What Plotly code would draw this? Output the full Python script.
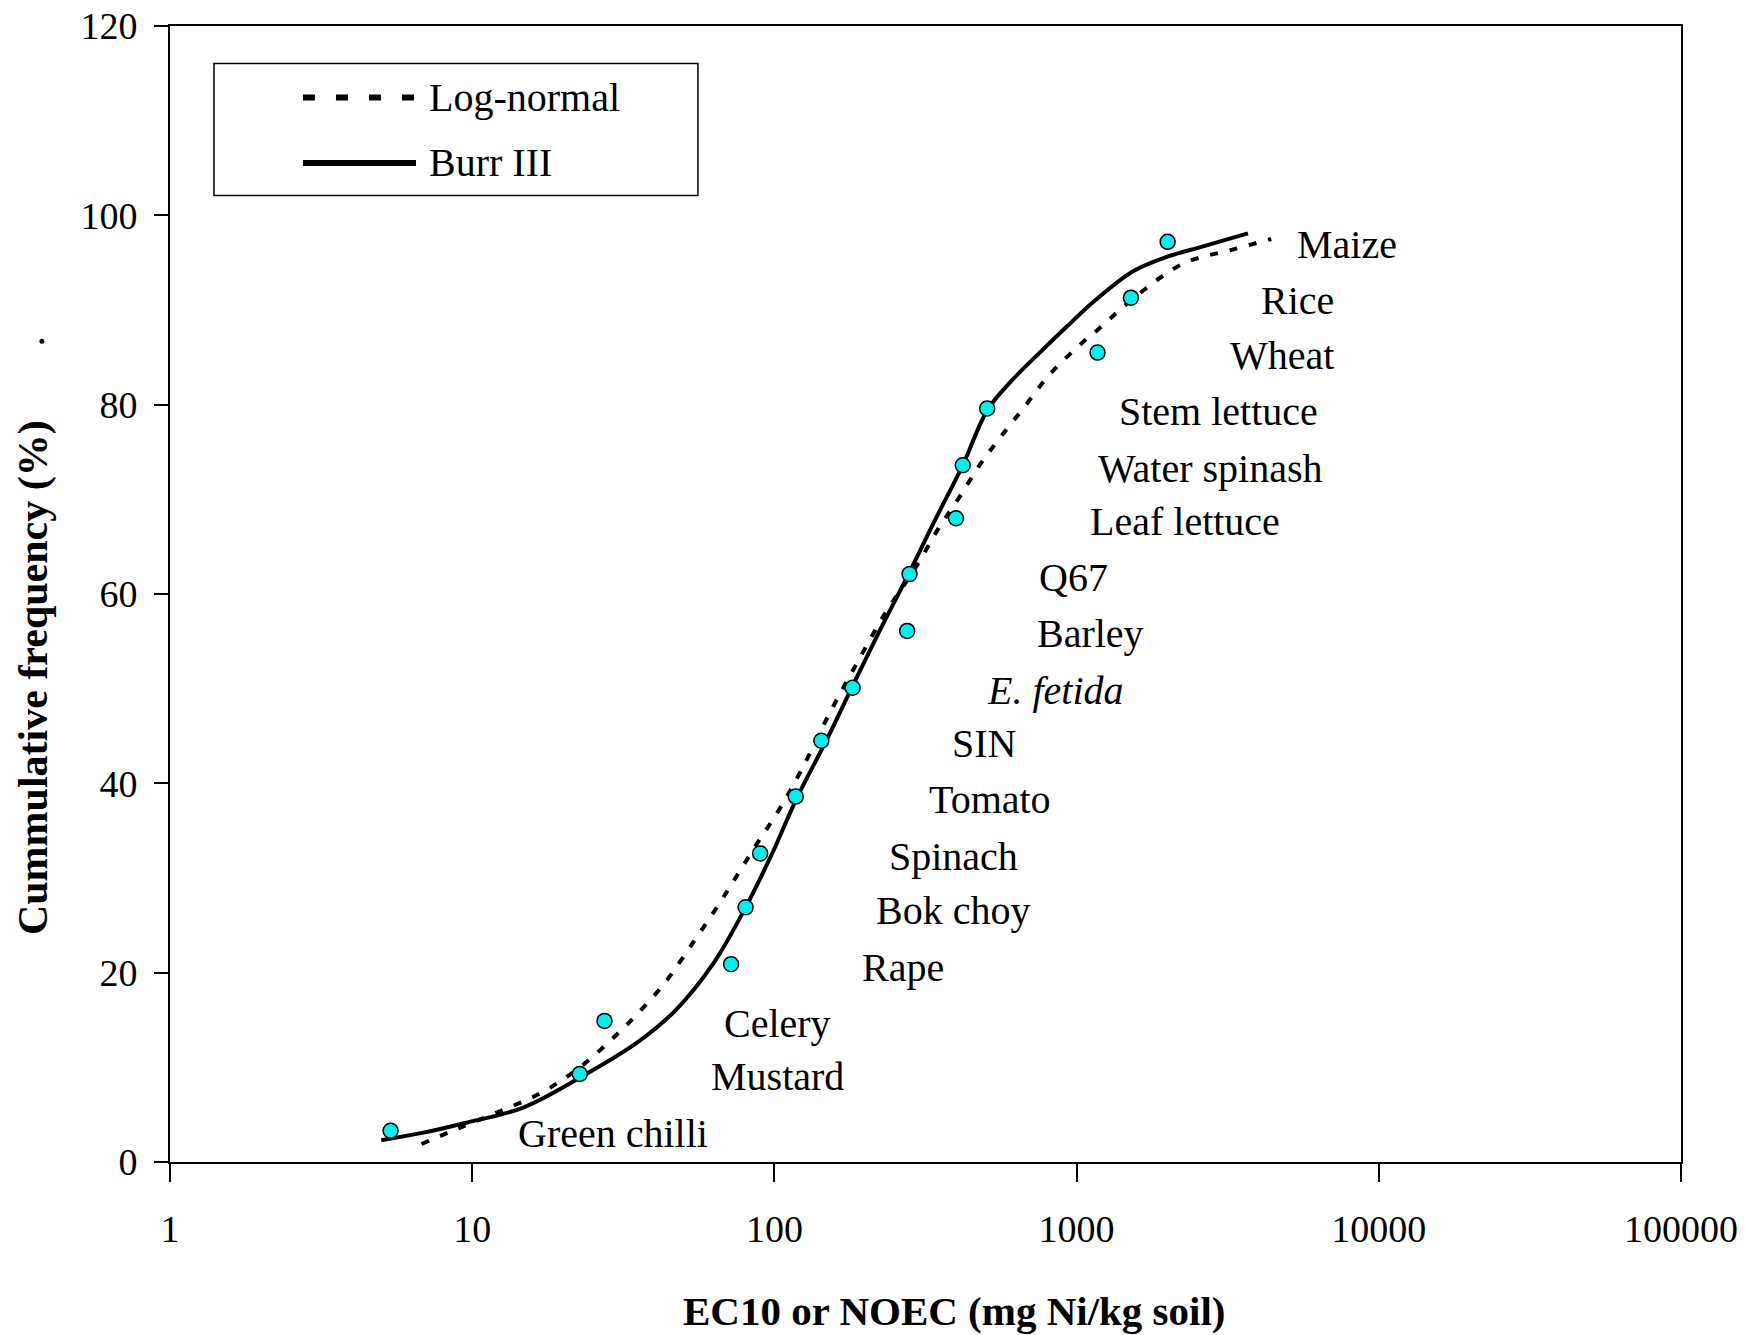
import plotly.graph_objects as go

# ---------------- data ----------------
species = ["Green chilli", "Mustard", "Celery", "Rape", "Bok choy", "Spinach", "Tomato",
           "SIN", "<i>E. fetida</i>", "Barley", "Q67", "Leaf lettuce", "Water spinash",
           "Stem lettuce", "Wheat", "Rice", "Maize"]
toxicity = [5.37, 22.7, 27.4, 71.9, 80.3, 89.7, 117.7, 143, 181.5, 275, 280, 399, 420,
            506, 1173, 1513, 2001]
cum_freq = [3.3, 9.3, 14.9, 20.9, 26.9, 32.6, 38.6, 44.5, 50.1, 56.1, 62.1, 68.0, 73.6,
            79.6, 85.5, 91.3, 97.2]

burr_x = [5.0, 6.9, 9.4, 14.6, 22.7, 35.1, 47, 62.9, 80.3, 99, 117.7, 150, 181.5, 222,
          280, 340, 420, 506, 600, 761, 925, 1150, 1538, 1985, 2605, 3690]
burr_y = [2.3, 3.1, 4.1, 5.7, 8.9, 12.6, 16.0, 21.0, 26.9, 32.8, 38.2, 44.8, 50.3, 56.0,
          62.3, 67.8, 73.6, 79.4, 82.3, 85.6, 88.2, 91.0, 94.1, 95.6, 96.7, 98.1]

lognorm_x = [6.8, 8.9, 12.0, 16.9, 22.7, 28.6, 34.6, 43.1, 54.4, 64.8, 75, 87.5, 103.6,
             122.8, 151.7, 187.6, 231.9, 280, 304, 348.7, 407, 482, 561, 673, 815, 1000,
             1193, 1538, 2254, 3303, 4406]
lognorm_y = [1.9, 3.5, 5.2, 7.3, 10.0, 12.8, 15.4, 18.8, 23.4, 27.0, 30.2, 33.6, 37.2,
             41.4, 47.3, 52.7, 57.9, 61.8, 63.6, 66.9, 70.1, 73.8, 76.6, 79.8, 83.2, 86.0,
             88.1, 91.2, 94.9, 96.4, 97.5]

x_tickvals = [1, 10, 100, 1000, 10000, 100000]
x_ticktext = ["1", "10", "100", "1000", "10000", "100000"]
y_tickvals = [0, 20, 40, 60, 80, 100, 120]

# ---------------- layout helpers (label placement, log10 of centre) ----------------
label_logx = [1.4665, 2.0118, 2.0118, 2.4263, 2.5921, 2.5939, 2.7119, 2.6934, 2.9292,
              3.0472, 2.9882, 3.3585, 3.4433, 3.4709, 3.6791, 3.7307, 3.8946]

FONT = "Liberation Serif, Times New Roman, serif"

fig = go.Figure()
fig.add_trace(go.Scatter(x=lognorm_x, y=lognorm_y, mode="lines", name="Log-normal",
                         line=dict(color="black", width=4, dash="8px,12px", shape="spline",
                                   smoothing=1.0)))
fig.add_trace(go.Scatter(x=burr_x, y=burr_y, mode="lines", name="Burr III",
                         line=dict(color="black", width=4, shape="spline", smoothing=1.0)))
fig.add_trace(go.Scatter(x=toxicity, y=cum_freq, mode="markers", name="Species",
                         marker=dict(size=15, color="#00F0F0",
                                     line=dict(color="black", width=1.5))))

annotations = []
for name, lx, yv in zip(species, label_logx, cum_freq):
    annotations.append(dict(x=lx, y=yv, xref="x", yref="y", text=name, showarrow=False,
                            xanchor="center", yanchor="middle", yshift=-3,
                            font=dict(family=FONT, size=40, color="black")))

# axis titles
annotations.append(dict(x=0.5195, y=-0.131, xref="paper", yref="paper",
                        text="<b>EC10 or NOEC (mg Ni/kg soil)</b>", showarrow=False,
                        xanchor="center", yanchor="middle",
                        font=dict(family=FONT, size=41, color="black")))
annotations.append(dict(x=-0.0907, y=0.4268, xref="paper", yref="paper",
                        text="<b>Cummulative frequency (%)</b>", showarrow=False,
                        textangle=-90, xanchor="center", yanchor="middle",
                        font=dict(family=FONT, size=42, color="black")))
# manual legend text
annotations.append(dict(x=0.1698, y=0.9371, xref="paper", yref="paper", text="Log-normal",
                        showarrow=False, xanchor="left", yanchor="middle",
                        font=dict(family=FONT, size=40, color="black")))
annotations.append(dict(x=0.1698, y=0.8795, xref="paper", yref="paper", text="Burr III",
                        showarrow=False, xanchor="left", yanchor="middle",
                        font=dict(family=FONT, size=40, color="black")))

shapes = [
    dict(type="rect", xref="paper", yref="paper", x0=0.0291, x1=0.3494, y0=0.8509, y1=0.967,
         line=dict(color="black", width=1.5), fillcolor="white", layer="below"),
    dict(type="line", xref="paper", yref="paper", x0=0.088, x1=0.1628, y0=0.9371, y1=0.9371,
         line=dict(color="black", width=6, dash="12px,21px")),
    dict(type="line", xref="paper", yref="paper", x0=0.088, x1=0.1628, y0=0.8795, y1=0.8795,
         line=dict(color="black", width=6)),
    dict(type="circle", xref="paper", yref="paper", x0=-0.0864, x1=-0.0831, y0=0.7202,
         y1=0.7246, fillcolor="black", line=dict(width=0)),
]

# page body has an 8px margin, so the figure is sized / offset to compensate
fig.update_layout(
    width=1730, height=1327,
    margin=dict(l=162, r=57, t=18, b=172.5, autoexpand=False),
    paper_bgcolor="white", plot_bgcolor="white",
    showlegend=False,
    font=dict(family=FONT, size=38, color="black"),
    annotations=annotations,
    shapes=shapes,
)
fig.update_xaxes(type="log", range=[0, 5], tickvals=x_tickvals, ticktext=x_ticktext,
                 showgrid=False, zeroline=False, showline=True, linecolor="black",
                 linewidth=2, mirror=True, ticks="outside", ticklen=18, tickwidth=1.5,
                 tickcolor="black", ticklabelstandoff=14, automargin=False,
                 ticklabeloverflow="allow",
                 tickfont=dict(family=FONT, size=38, color="black"))
fig.update_yaxes(range=[0, 120], tickvals=y_tickvals, showgrid=False, zeroline=False,
                 showline=True, linecolor="black", linewidth=2, mirror=True,
                 ticks="outside", ticklen=14, tickwidth=1.5, tickcolor="black",
                 ticklabelstandoff=9, automargin=False, ticklabeloverflow="allow",
                 tickfont=dict(family=FONT, size=38, color="black"))

fig.write_html("out.html")
